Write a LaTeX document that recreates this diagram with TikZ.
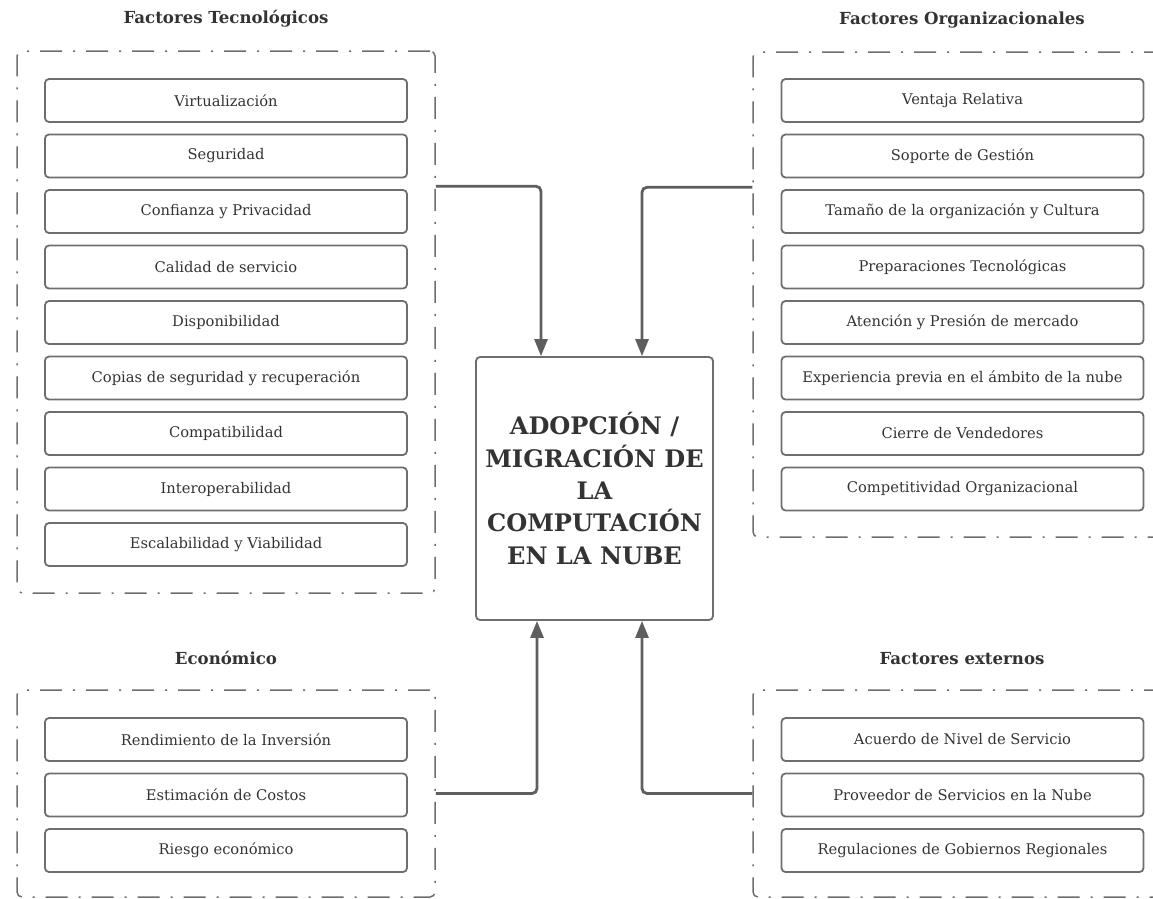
\documentclass[tikz,border=0pt]{standalone}
\usepackage{fontspec}
\setmainfont{DejaVu Serif}
\usetikzlibrary{arrows.meta,positioning}

\definecolor{linegray}{HTML}{5E5E5E}
\definecolor{boxgray}{HTML}{6E6E6E}
\definecolor{textgray}{HTML}{333333}

\tikzset{
  item/.style={draw=boxgray, line width=1.8pt, rounded corners=4pt,
    minimum width=362pt, minimum height=43pt, text=textgray,
    font=\fontsize{14.7}{17}\selectfont},
  group/.style={draw=boxgray, line width=1.5pt, rounded corners=5pt,
    dash pattern=on 22pt off 11pt on 2pt off 11pt},
  heading/.style={text=textgray, font=\fontsize{16.6}{19}\selectfont\bfseries},
  core/.style={draw=boxgray, line width=1.8pt, rounded corners=4pt,
    minimum width=237pt, minimum height=263pt, align=center, text=textgray,
    font=\fontsize{24.1}{32.3}\selectfont\bfseries},
  flow/.style={draw=linegray, line width=2.8pt, rounded corners=5pt,
    -{Triangle[length=17pt,width=13pt]}},
}

\begin{document}
\begin{tikzpicture}[x=1pt, y=-1pt, node distance=55.5pt]
  \useasboundingbox (0,0) rectangle (1153,898);
  \clip (0,0) rectangle (1153,898);

  % frames
  \node (tec) [group, minimum width=418pt, minimum height=542pt] at (226,322) {};
  \node (org) [group, minimum width=418pt, minimum height=485pt] at (962,294.5) {};
  \node (eco) [group, minimum width=418pt, minimum height=207pt] at (226,793.5) {};
  \node (ext) [group, minimum width=418pt, minimum height=207pt] at (962,793.5) {};

  \node (tecT) [heading, above=20pt of tec] {Factores Tecnológicos};
  \node (orgT) [heading, above=20pt of org] {Factores Organizacionales};
  \node (ecoT) [heading, above=21pt of eco] {Económico};
  \node (extT) [heading, above=21pt of ext] {Factores externos};

  % factores tecnologicos
  \node (virt) [item] at (226,100.5) {Virtualización};
  \node (segu) [item, below of=virt] {Seguridad};
  \node (conf) [item, below of=segu] {Confianza y Privacidad};
  \node (cali) [item, below of=conf] {Calidad de servicio};
  \node (disp) [item, below of=cali] {Disponibilidad};
  \node (copi) [item, below of=disp] {Copias de seguridad y recuperación};
  \node (comp) [item, below of=copi] {Compatibilidad};
  \node (inte) [item, below of=comp] {Interoperabilidad};
  \node (esca) [item, below of=inte] {Escalabilidad y Viabilidad};

  % factores organizacionales
  \node (vent) [item] at (962.5,100.5) {Ventaja Relativa};
  \node (sopo) [item, below of=vent] {Soporte de Gestión};
  \node (tama) [item, below of=sopo] {Tamaño de la organización y Cultura};
  \node (prep) [item, below of=tama] {Preparaciones Tecnológicas};
  \node (aten) [item, below of=prep] {Atención y Presión de mercado};
  \node (expe) [item, below of=aten] {Experiencia previa en el ámbito de la nube};
  \node (cier) [item, below of=expe] {Cierre de Vendedores};
  \node (cpto) [item, below of=cier] {Competitividad Organizacional};

  % economico
  \node (rend) [item] at (226,739.5) {Rendimiento de la Inversión};
  \node (esti) [item, below of=rend] {Estimación de Costos};
  \node (ries) [item, below of=esti] {Riesgo económico};

  % factores externos
  \node (acue) [item] at (962.5,739.5) {Acuerdo de Nivel de Servicio};
  \node (prov) [item, below of=acue] {Proveedor de Servicios en la Nube};
  \node (regu) [item, below of=prov] {Regulaciones de Gobiernos Regionales};

  \node (adop) [core] at (594.5,488.5)
    {ADOPCIÓN /\\MIGRACIÓN DE\\LA\\COMPUTACIÓN\\EN LA NUBE};

  \draw[flow] ([yshift=-136pt]tec.north east) -| ([xshift=-53.5pt]adop.north);
  \draw[flow] ([yshift=-136pt]org.north west) -| ([xshift=47.5pt]adop.north);
  \draw[flow] (eco.east) -| ([xshift=-57.5pt]adop.south);
  \draw[flow] (ext.west) -| ([xshift=47.5pt]adop.south);
\end{tikzpicture}
\end{document}
